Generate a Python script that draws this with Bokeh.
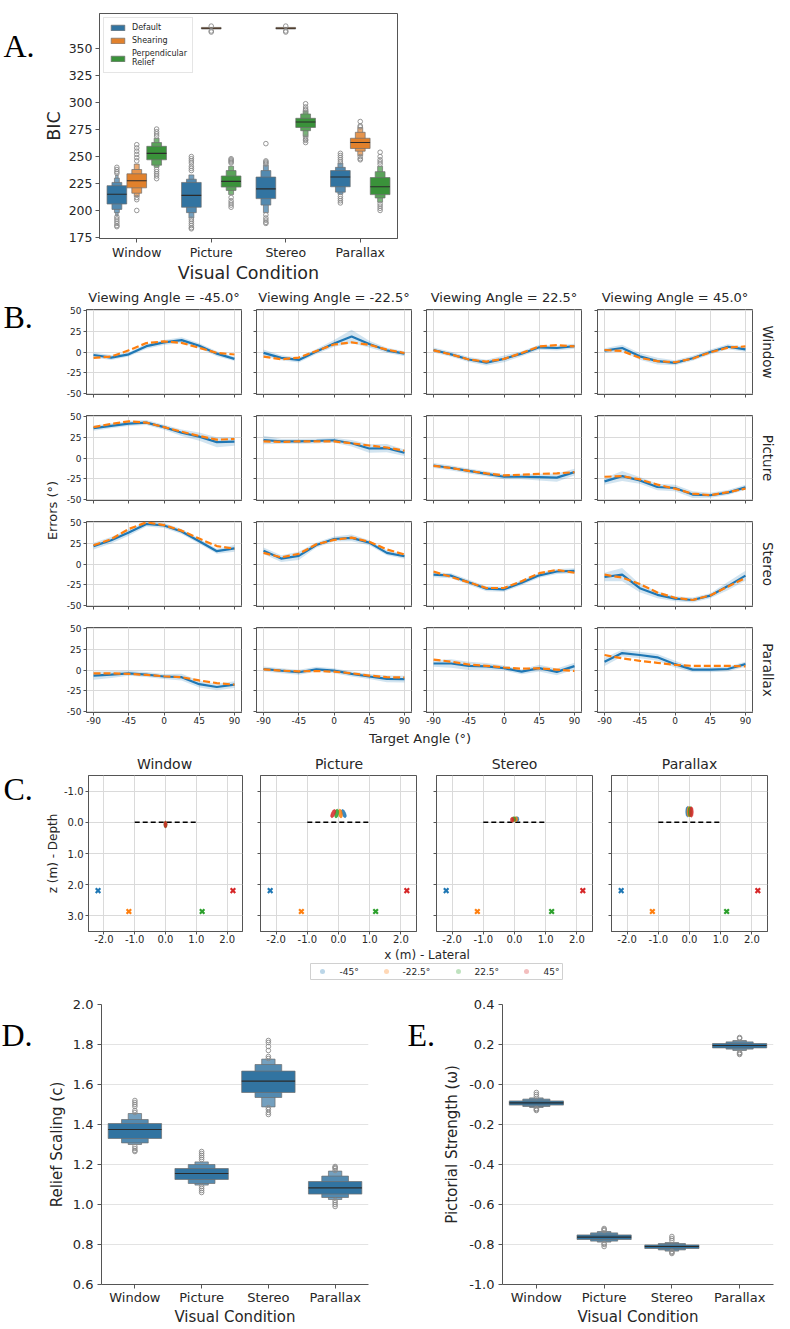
import numpy as np
from bokeh.plotting import figure
from bokeh.layouts import column, row
from bokeh.models import Range1d, FixedTicker, Label, Legend, LegendItem
from bokeh.embed import file_html
from bokeh.resources import INLINE
from bokeh.core.properties import value

FONT = "DejaVu Sans"
SERIF = "Liberation Serif"
TXT = "#262626"
SPINE = "#555555"

# ---------------------------------------------------------------- data
conditions = ["Window", "Picture", "Stereo", "Parallax"]
model_names = ["Default", "Shearing", "Perpendicular\nRelief"]

# Panel A: BIC letter-value boxes (inner -> outer), medians, outliers
bic_default_median = [215, 214, 220, 231]
bic_default_boxes = [
    [(206, 223), (201, 226), (198, 230), (195, 233)],
    [(203, 226), (198, 229), (193, 233)],
    [(211, 231), (205, 237), (198, 242)],
    [(222, 237), (217, 240), (215, 244)],
]
bic_default_outliers = [
    [240, 238, 236, 234.5, 194, 192, 190, 188, 186, 185],
    [250, 248, 246, 244, 241, 239, 237, 192, 190, 188, 186, 184, 183],
    [262, 246, 245, 244, 243, 196, 193, 191, 189, 188],
    [253, 251, 249, 247, 245, 213, 211, 209, 207],
]
bic_shearing_median = [227.5, 369, 369, 263]
bic_shearing_boxes = [
    [(221, 234), (216, 238), (213, 243)],
    [(368.3, 369.8)],
    [(368.3, 369.8)],
    [(257.5, 267), (255, 272.5), (251, 277)],
]
bic_shearing_outliers = [
    [261, 258, 255, 252, 249, 246, 212, 210, 200],
    [371, 366.5, 365.5],
    [371, 366.5, 365.5],
    [282.5, 278.5, 277.5, 250, 248, 247],
]
bic_perp_median = [253, 227, 282, 222]
bic_perp_boxes = [
    [(247, 259.5), (242, 263), (240, 267)],
    [(221.7, 232), (218.6, 237), (214.7, 241)],
    [(277, 285.5), (274, 289.5), (268.6, 292.5)],
    [(214.7, 230.5), (211.6, 236), (207.6, 241)],
]
bic_perp_outliers = [
    [275.5, 273, 271, 269, 238, 236, 234, 232, 229.5],
    [248, 247, 246, 245, 244, 212, 209, 207, 205, 203],
    [299, 296, 294, 293, 268, 266, 265, 263],
    [254, 250, 247, 245, 243, 206, 204, 202, 200],
]

# Panel B: errors vs target angle
target_angles = [-90, -67.5, -45, -22.5, 0, 22.5, 45, 67.5, 90]
viewing_angles = ["-45.0", "-22.5", "22.5", "45.0"]

err_window_obs = [
    [-3.6, -6.7, -2.8, 7, 11.5, 14.3, 7.5, -2, -8.3],
    [-1, -7, -9.5, 0.5, 10.3, 18.6, 9.5, 2, -2],
    [2.4, -2.8, -9, -12.7, -8.3, -2, 5.6, 4.8, 7],
    [1.6, 4.8, -5.2, -11, -13, -7.5, 0, 6.3, 3.2],
]
err_window_model = [
    [-7, -5.5, 2, 10.7, 12.7, 11, 5, -1, -3],
    [-5.5, -8.7, -6.7, 1.2, 9, 11.5, 8.7, 2.8, -1.2],
    [2, -3, -9, -11.5, -8.3, -1.2, 6.7, 8.3, 6.7],
    [2.4, 1.2, -7, -11, -12.3, -8, -0.4, 5.2, 6.7],
]
err_window_ci = [
    [3, 3, 2.5, 3, 3, 3.5, 3, 3, 2.5],
    [4, 3, 3, 3, 4, 8, 4, 3, 3],
    [3, 3, 3, 3.5, 4, 3, 3, 3, 3],
    [3, 4, 4, 4, 3, 3, 3, 3, 3],
]
err_picture_obs = [
    [35.8, 38.6, 41.3, 42.5, 37, 30.3, 25.6, 19, 19.7],
    [21.6, 20, 20, 20.5, 21.3, 17.7, 11.4, 11.8, 6.3],
    [-9, -12, -15.5, -19, -22.5, -22.5, -23, -23.5, -17],
    [-28, -21.7, -26.9, -34.8, -36, -43.9, -44.7, -41.5, -35.2],
]
err_picture_model = [
    [37, 41, 44, 42.5, 37, 31.5, 26.4, 22, 22.8],
    [20, 19.3, 20, 20, 20, 17.7, 15, 12.6, 8.7],
    [-9.4, -12, -15.5, -18.5, -20.9, -20, -19, -18.5, -17],
    [-22.5, -21.7, -25.7, -32, -36.8, -42.7, -44.7, -41, -36.8],
]
err_picture_ci = [
    [3, 3, 3, 3, 3, 4, 5, 6, 5],
    [5, 3, 3, 3, 3, 4, 5, 5, 4],
    [3, 3, 3, 3, 3, 3, 4, 5, 4],
    [4, 6, 4, 4, 4, 4, 3, 3, 3],
]
err_stereo_obs = [
    [21.5, 28.5, 37.8, 48, 46.3, 39, 27.2, 15.4, 18.7],
    [15.9, 6.5, 9.8, 22.8, 30, 31.3, 25.6, 13.4, 9.3],
    [-12.8, -14, -22, -29.6, -30.4, -22.6, -13.6, -9, -8.2],
    [-15.6, -12.8, -29, -37, -41.6, -43.2, -38, -26.5, -14],
]
err_stereo_model = [
    [22.4, 29.7, 42, 50, 46.7, 40, 30.5, 21.5, 18.3],
    [13.4, 8, 12.2, 23.6, 28.9, 31.7, 26.8, 17.5, 11.4],
    [-9, -15.6, -22, -28.8, -28.8, -20.6, -11, -7, -10.5],
    [-12.8, -16.3, -24, -34.2, -40.5, -43.2, -37.7, -27.2, -16.7],
]
err_stereo_ci = [
    [4, 4, 4, 3, 3, 3, 3, 3, 4],
    [4, 4, 5, 3, 3, 4, 3, 3, 3],
    [3, 3, 3, 3, 3, 3, 3, 3, 3],
    [5, 8, 5, 4, 3, 3, 3, 5, 6],
]
err_parallax_obs = [
    [-6.7, -5.5, -4, -5.5, -7.8, -8.6, -17, -20.4, -17.6],
    [1.2, -0.8, -2.7, 0.8, -0.8, -4.7, -7.8, -10.6, -11],
    [7.8, 7.8, 5, 4.3, 2.3, -2, 2.3, -2.3, 4.7],
    [9.8, 20.3, 18, 15.2, 7, 0.4, 0.4, 1.2, 7],
]
err_parallax_model = [
    [-4, -4, -4.7, -5.9, -7.5, -8.6, -12.5, -15.7, -17.6],
    [0.8, -0.8, -1.6, -1.2, -2, -3.9, -6.7, -8.6, -9],
    [12.5, 10, 6.6, 5, 3, 1.6, 2, 0.4, -1.2],
    [18, 14, 11, 8.6, 6.2, 5, 5, 5, 4.3],
]
err_parallax_ci = [
    [5, 4, 3, 3, 3, 4, 4, 4, 4],
    [3, 3, 3, 3, 3, 3, 3, 4, 4],
    [4, 5, 5, 4, 3, 3, 4, 4, 4],
    [5, 4, 4, 4, 4, 3, 3, 3, 3],
]

# Panel C: viewer positions and perceived positions (x lateral, z depth)
angle_labels = ["-45°", "-22.5°", "22.5°", "45°"]
angle_colors = ["#1f77b4", "#ff7f0e", "#2ca02c", "#d62728"]
viewer_x = [-2.19, -1.19, 1.19, 2.19]
viewer_z = [2.19, 2.86, 2.86, 2.19]
screen_x = [-1.0, 1.0]
screen_z = [0.0, 0.0]
cloud_x = [
    [0.0, 0.0, 0.0, 0.0],
    [0.17, 0.06, -0.06, -0.17],
    [0.08, 0.04, -0.02, -0.07],
    [-0.06, -0.02, 0.02, 0.06],
]
cloud_z = [
    [0.07, 0.07, 0.07, 0.07],
    [-0.28, -0.28, -0.28, -0.28],
    [-0.1, -0.1, -0.1, -0.08],
    [-0.34, -0.34, -0.34, -0.33],
]
cloud_w = [0.09, 0.12, 0.12, 0.12]
cloud_h = [0.2, 0.28, 0.16, 0.33]
cloud_tilt = [
    [0, 0, 0, 0],
    [0.4, 0.15, -0.15, -0.4],
    [0, 0, 0, 0],
    [0, 0, 0, 0],
]

# Panel D / E
relief_median = [1.375, 1.155, 1.617, 1.083]
relief_boxes = [
    [(1.33, 1.405), (1.308, 1.425), (1.30, 1.455)],
    [(1.125, 1.18), (1.105, 1.20), (1.097, 1.213)],
    [(1.56, 1.667), (1.535, 1.70), (1.488, 1.727)],
    [(1.052, 1.115), (1.035, 1.142), (1.025, 1.167)],
]
relief_outliers = [
    [1.52, 1.51, 1.50, 1.49, 1.47, 1.46, 1.29, 1.28, 1.27, 1.265],
    [1.265, 1.255, 1.245, 1.235, 1.225, 1.09, 1.08, 1.07, 1.06],
    [1.82, 1.81, 1.79, 1.77, 1.74, 1.73, 1.485, 1.475, 1.46, 1.45],
    [1.19, 1.185, 1.18, 1.17, 1.02, 1.01, 1.0, 0.99],
]
omega_median = [-0.092, -0.763, -0.81, 0.195]
omega_boxes = [
    [(-0.103, -0.082), (-0.11, -0.073), (-0.115, -0.067)],
    [(-0.775, -0.752), (-0.783, -0.742), (-0.788, -0.735)],
    [(-0.82, -0.802), (-0.827, -0.795), (-0.833, -0.79)],
    [(0.183, 0.205), (0.177, 0.213), (0.17, 0.22)],
]
omega_outliers = [
    [-0.04, -0.05, -0.06, -0.12, -0.125, -0.13],
    [-0.72, -0.725, -0.73, -0.795, -0.80, -0.81],
    [-0.76, -0.77, -0.78, -0.835, -0.84, -0.845],
    [0.235, 0.23, 0.16, 0.155, 0.15],
]

# ---------------------------------------------------------------- helpers
def lighten(hexc, t):
    r, g, b = int(hexc[1:3], 16), int(hexc[3:5], 16), int(hexc[5:7], 16)
    r, g, b = (round(c + (255 - c) * t) for c in (r, g, b))
    return "#%02x%02x%02x" % (r, g, b)


def new_fig(w, h, bl, br, bt, bb, xr, yr):
    p = figure(width=w, height=h, x_range=xr, y_range=yr,
               min_border_left=bl, min_border_right=br,
               min_border_top=bt, min_border_bottom=bb,
               output_backend="svg", toolbar_location=None)
    p.outline_line_color = None
    p.background_fill_color = "white"
    p.border_fill_color = "white"
    return p


def blank(w, h):
    p = figure(width=w, height=h, x_range=Range1d(0, w), y_range=Range1d(h, 0),
               x_axis_type=None, y_axis_type=None, min_border=0,
               output_backend="svg", toolbar_location=None)
    p.grid.visible = False
    p.outline_line_color = None
    return p


def style_axis(ax, ticks, labels, size, tick_out=4, standoff=2, show=True):
    if show:
        ax.ticker = FixedTicker(ticks=list(ticks))
        ax.major_label_overrides = {t: l for t, l in zip(ticks, labels)}
    else:
        # tick marks only (drawn as minor ticks), no tick labels
        ax.ticker = FixedTicker(ticks=[], minor_ticks=list(ticks))
    ax.major_label_text_font = FONT
    ax.major_label_text_font_size = size
    ax.major_label_text_color = TXT
    ax.major_label_standoff = standoff
    ax.major_tick_in = 0
    ax.major_tick_out = tick_out
    ax.minor_tick_in = 0
    ax.minor_tick_out = tick_out
    ax.minor_tick_line_color = None if show else SPINE
    ax.axis_line_color = SPINE
    ax.major_tick_line_color = SPINE
    ax.axis_label_text_font = FONT
    ax.axis_label_text_font_style = "normal"
    ax.axis_label_text_color = TXT


def add_text(p, x, y, text, size, font=FONT, align="center", baseline="middle",
             angle=0.0, color=TXT):
    p.add_layout(Label(x=x, y=y, text=text,
                       text_font=font, text_font_size=size, text_color=color,
                       text_align=align, text_baseline=baseline, angle=angle))


def letter(p, x, y, text):
    add_text(p, x, y, text, "32px", font=SERIF, align="left", baseline="alphabetic",
             color="black")


def boxen(p, positions, half, medians, boxes, outliers, base, factors=(1, 0.5, 0.25, 0.125)):
    """draw letter-value boxes, outer levels first; returns inner-level renderer"""
    inner = None
    nlev = max(len(b) for b in boxes)
    for lev in range(nlev - 1, -1, -1):
        L, R, B, T = [], [], [], []
        for pos, bx in zip(positions, boxes):
            if lev < len(bx):
                lo, hi = bx[lev]
                hw = half * factors[lev]
                L.append(pos - hw); R.append(pos + hw); B.append(lo); T.append(hi)
        r = p.quad(left=L, right=R, bottom=B, top=T,
                   fill_color=lighten(base, 0.16 * lev), line_color="#6f6f6f", line_width=0.7)
        if lev == 0:
            inner = r
    p.segment(x0=[pp - half for pp in positions], x1=[pp + half for pp in positions],
              y0=medians, y1=medians, line_color="#2b2b2b", line_width=1.1)
    ox, oy = [], []
    for pos, outs in zip(positions, outliers):
        ox += [pos] * len(outs); oy += outs
    p.scatter(ox, oy, marker="circle", size=4.6, fill_color=None,
              line_color="#8a8a8a", line_width=0.9)
    return inner


# ---------------------------------------------------------------- Panel A
pAl = blank(40, 288)
letter(pAl, 3, 41, "A.")
pA = new_fig(360, 288, 57, 3, 13, 50, Range1d(-0.5, 3.5), Range1d(174, 382.7))
pA.outline_line_color = SPINE
pA.grid.visible = False
cat_pos = list(range(len(conditions)))
a_colors = ["#3274a1", "#e1812c", "#3a923a"]
a_sets = [(bic_default_median, bic_default_boxes, bic_default_outliers),
          (bic_shearing_median, bic_shearing_boxes, bic_shearing_outliers),
          (bic_perp_median, bic_perp_boxes, bic_perp_outliers)]
legend_items = []
for m, (med, bxs, outs) in enumerate(a_sets):
    pos = [c + (m - 1) * 0.2667 for c in cat_pos]
    rend = boxen(pA, pos, 0.132, med, bxs, outs, a_colors[m])
    legend_items.append(LegendItem(label=value(model_names[m]), renderers=[rend]))
style_axis(pA.xaxis[0], cat_pos, conditions, "12.5px", standoff=2)
style_axis(pA.yaxis[0], list(range(175, 351, 25)), [str(v) for v in range(175, 351, 25)],
           "12.5px", standoff=3)
pA.xaxis.axis_label = "Visual Condition"
pA.xaxis.axis_label_text_font_size = "17.5px"
pA.xaxis.axis_label_standoff = 0
pA.yaxis.axis_label = "BIC"
pA.yaxis.axis_label_text_font_size = "17.5px"
pA.yaxis.axis_label_standoff = 2
leg = Legend(items=legend_items, location="top_left")
leg.margin = 4
leg.padding = 5
leg.spacing = 4
leg.label_text_font = FONT
leg.label_text_font_size = "8px"
leg.label_text_color = TXT
leg.glyph_width = 17
leg.glyph_height = 7
leg.label_height = 8
leg.label_standoff = 6
leg.border_line_color = "#cccccc"
leg.background_fill_alpha = 0.85
pA.add_layout(leg)
blockA = row(pAl, pA)

# ---------------------------------------------------------------- Panel B
fwB, fhB = 155, 85
wB = [189, 170, 170, 171]
blB = [26, 7, 7, 8]
brB = [8, 8, 8, 8]
hB = [99, 106, 106, 112]
btB = [4, 11, 11, 11]
bbB = [10, 10, 10, 16]
b_rows = [("Window", err_window_obs, err_window_model, err_window_ci),
          ("Picture", err_picture_obs, err_picture_model, err_picture_ci),
          ("Stereo", err_stereo_obs, err_stereo_model, err_stereo_ci),
          ("Parallax", err_parallax_obs, err_parallax_model, err_parallax_ci)]
xticksB = [-90, -45, 0, 45, 90]
yticksB = [-50, -25, 0, 25, 50]
rowsB = []
for r, (rname, obs_all, mod_all, ci_all) in enumerate(b_rows):
    figs = []
    for c in range(4):
        p = new_fig(wB[c], hB[r], blB[c], brB[c], btB[r], bbB[r],
                    Range1d(-99, 99), Range1d(-51, 51))
        p.outline_line_color = SPINE
        p.xgrid[0].ticker = FixedTicker(ticks=xticksB)
        p.ygrid[0].ticker = FixedTicker(ticks=yticksB)
        p.grid.grid_line_color = "#dadada"
        obs = np.array(obs_all[c]); ci = np.array(ci_all[c])
        p.varea(x=target_angles, y1=obs - ci, y2=obs + ci, fill_color="#1f77b4", fill_alpha=0.2)
        p.line(target_angles, obs_all[c], line_color="#1f77b4", line_width=2.2)
        p.line(target_angles, mod_all[c], line_color="#ff7f0e", line_width=2.2, line_dash="7 3")
        style_axis(p.xaxis[0], xticksB, [str(v) for v in xticksB], "9px", tick_out=3,
                   standoff=1, show=(r == 3))
        style_axis(p.yaxis[0], yticksB, [str(v) for v in yticksB], "9px", tick_out=3,
                   standoff=2, show=(c == 0))
        figs.append(p)
    rowsB.append(row(*figs))

pBl = blank(60, 460)
letter(pBl, 3, 28, "B.")
add_text(pBl, 52, 222, "Errors (°)", "13px", angle=np.pi / 2)
pBt = blank(730, 17)
for c, cx in enumerate([103.5, 273.5, 443.5, 614.5]):
    add_text(pBt, cx, 16, "Viewing Angle = %s°" % viewing_angles[c], "13px", baseline="bottom")
pBr = blank(30, 423)
for r, cy in enumerate([46.5, 152.5, 258.5, 364.5]):
    add_text(pBr, 7, cy, b_rows[r][0], "13.5px", angle=-np.pi / 2)
pBx = blank(730, 20)
add_text(pBx, 359.5, 10, "Target Angle (°)", "13px")
blockB = row(pBl, column(pBt, row(column(*rowsB), pBr), pBx))

# ---------------------------------------------------------------- Panel C
fC = 156
wC = [191, 175, 175, 181]
blC = [26, 9, 10, 10]
brC = [9, 10, 9, 15]
cticks_x = [-2, -1, 0, 1, 2]
cticks_z = [-1, 0, 1, 2, 3]
figsC = []
for c in range(4):
    p = new_fig(wC[c], 176, blC[c], brC[c], 3, 17, Range1d(-2.5, 2.5), Range1d(3.5, -1.5))
    p.outline_line_color = SPINE
    p.xgrid[0].ticker = FixedTicker(ticks=cticks_x)
    p.ygrid[0].ticker = FixedTicker(ticks=cticks_z)
    p.grid.grid_line_color = "#dadada"
    p.line(screen_x, screen_z, line_color="black", line_width=1.5, line_dash="5 3")
    for k in range(4):
        p.ellipse(x=[cloud_x[c][k]], y=[cloud_z[c][k]], width=cloud_w[c], height=cloud_h[c],
                  angle=cloud_tilt[c][k], fill_color=angle_colors[k], fill_alpha=0.85,
                  line_color=angle_colors[k], line_alpha=0.5)
    p.scatter(viewer_x, viewer_z, marker="x", size=6.5, line_width=2.2, line_color=angle_colors)
    style_axis(p.xaxis[0], cticks_x, ["%.1f" % v for v in cticks_x], "10px", tick_out=3,
               standoff=0)
    style_axis(p.yaxis[0], cticks_z, ["%.1f" % v for v in cticks_z], "10px", tick_out=3,
               standoff=2, show=(c == 0))
    figsC.append(p)
pCl = blank(60, 237)
letter(pCl, 3, 40, "C.")
add_text(pCl, 52, 105, "z (m) - Depth", "12px", angle=np.pi / 2)
pCt = blank(722, 24)
for c, cx in enumerate([104, 278.5, 454, 629]):
    add_text(pCt, cx, 23, conditions[c], "14px", baseline="bottom")
pCb = blank(722, 37)
add_text(pCb, 366.5, 6, "x (m) - Lateral", "12px")
pCb.rect(x=[376], y=[23], width=252, height=16, fill_color="white", line_color="#d0d0d0",
         line_width=1)
leg_dot_x = [262, 326, 398, 466]
leg_txt_x = [279, 342, 414, 483]
pCb.scatter(leg_dot_x, [23] * 4, size=5, fill_color=angle_colors, fill_alpha=0.3,
            line_color=None)
for k in range(4):
    add_text(pCb, leg_txt_x[k], 23, angle_labels[k], "9px", align="left")
blockC = row(pCl, column(pCt, row(*figsC), pCb))

# ---------------------------------------------------------------- Panels D and E
def de_panel(bl, br, yr, yticks, ylabels, ylabel, med, bxs, outs, ystand):
    p = new_fig(bl + 272 + br, 344, bl, br, 19, 45, Range1d(-0.5, 3.5), yr)
    p.xgrid.visible = False
    p.ygrid[0].ticker = FixedTicker(ticks=yticks)
    p.ygrid.grid_line_color = "#e3e3e3"
    boxen(p, cat_pos, 0.4, med, bxs, outs, "#3274a1")
    style_axis(p.xaxis[0], cat_pos, conditions, "13px", standoff=1)
    style_axis(p.yaxis[0], yticks, ylabels, "13px", standoff=4)
    p.xaxis.axis_label = "Visual Condition"
    p.xaxis.axis_label_text_font_size = "15px"
    p.xaxis.axis_label_standoff = 0
    p.yaxis.axis_label = ylabel
    p.yaxis.axis_label_text_font_size = "15px"
    p.yaxis.axis_label_standoff = ystand
    return p

d_ticks = [0.6, 0.8, 1.0, 1.2, 1.4, 1.6, 1.8, 2.0]
d_labels = ["0.6", "0.8", "1.0", "1.2", "1.4", "1.6", "1.8", "2.0"]
e_ticks = [-1.0, -0.8, -0.6, -0.4, -0.2, 0.0, 0.2, 0.4]
e_labels = ["-1.0", "-0.8", "-0.6", "-0.4", "-0.2", "-0.0", "0.2", "0.4"]
pDl = blank(44, 344)
letter(pDl, 1, 38, "D.")
pD = de_panel(52, 27, Range1d(0.6, 2.0), d_ticks, d_labels, "Relief Scaling (c)",
              relief_median, relief_boxes, relief_outliers, 4)
pEl = blank(45, 344)
letter(pEl, 12, 38, "E.")
pE = de_panel(61, 17, Range1d(-1.0, 0.4), e_ticks, e_labels, "Pictorial Strength (ω)",
              omega_median, omega_boxes, omega_outliers, 5)
blockDE = row(pDl, pD, pEl, pE)

layout = column(blockA, blockB, blockC, blockDE)
open("out.html", "w").write(file_html(layout, INLINE))
